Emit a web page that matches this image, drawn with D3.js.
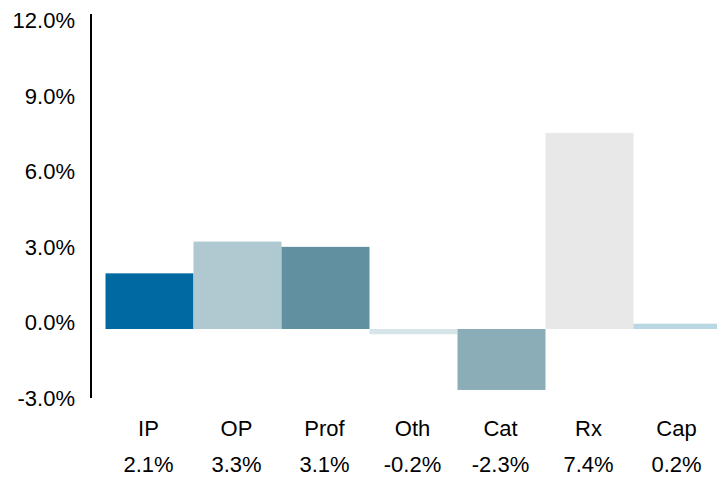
<!DOCTYPE html>
<html lang="en">
<head>
  <meta charset="UTF-8">
  <title>Growth by category</title>
  <style>
    body { margin: 0; background: #fff; }
    svg { display: block; font-family: "Liberation Sans", Arial, sans-serif; }
    .tick-label { font-size: 22px; fill: #000; }
    .cat-label { font-size: 22px; fill: #000; }
  </style>
</head>
<body>
  <svg width="717" height="481"></svg>
  <script src="https://d3js.org/d3.v7.min.js"></script>
  <script>
    const width = 717, height = 481;

    const categories = ["IP", "OP", "Prof", "Oth", "Cat", "Rx", "Cap"];
    const values = [2.1, 3.3, 3.1, -0.2, -2.3, 7.4, 0.2];
    const barColors = ["#0069a1", "#b0c9d0", "#6190a1", "#d6e6e8", "#8aadb8", "#e8e8e8", "#bad8e3"];
    const tickValues = [-3, 0, 3, 6, 9, 12];

    // plain hyphen for negatives, like the original
    const pct = d => d3.format(".1f")(d).replace("\u2212", "-") + "%";

    const svg = d3.select("svg");

    const x = d3.scaleBand()
      .domain(categories)
      .range([105.5, 721.5])
      .padding(0);

    // bars
    const y = d3.scaleLinear()
      .domain([-3, 12])
      .range([408.5, 11]);

    // tick labels sit on a slightly tighter grid than the bars
    const yAxisScale = d3.scaleLinear()
      .domain([-3, 12])
      .range([398, 20]);

    svg.append("g")
      .selectAll("rect")
      .data(values)
      .join("rect")
      .attr("x", (d, i) => x(categories[i]))
      .attr("width", x.bandwidth())
      .attr("y", d => y(Math.max(0, d)))
      .attr("height", d => Math.abs(y(d) - y(0)))
      .attr("fill", (d, i) => barColors[i]);

    // axis line
    svg.append("line")
      .attr("x1", 91).attr("x2", 91)
      .attr("y1", 14).attr("y2", yAxisScale(-3))
      .attr("stroke", "#000")
      .attr("stroke-width", 2);

    svg.append("g")
      .selectAll("text")
      .data(tickValues)
      .join("text")
      .attr("class", "tick-label")
      .attr("x", 75)
      .attr("y", d => yAxisScale(d))
      .attr("dy", "0.36em")
      .attr("text-anchor", "end")
      .text(pct);

    const labels = svg.append("g")
      .selectAll("g")
      .data(categories)
      .join("g")
      .attr("transform", d => `translate(${x(d) + x.bandwidth() / 2 - 1},0)`);

    labels.append("text")
      .attr("class", "cat-label")
      .attr("y", 436)
      .attr("text-anchor", "middle")
      .text(d => d);

    labels.append("text")
      .attr("class", "cat-label")
      .attr("y", 472)
      .attr("text-anchor", "middle")
      .text((d, i) => pct(values[i]));
  </script>
</body>
</html>
